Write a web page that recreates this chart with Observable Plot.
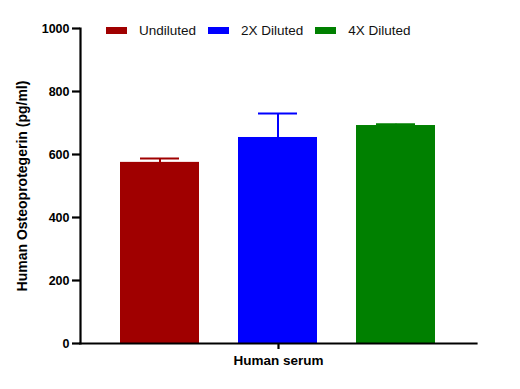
<!DOCTYPE html>
<html>
<head>
<meta charset="utf-8">
<script src="https://cdn.jsdelivr.net/npm/d3@7"></script>
<script src="https://cdn.jsdelivr.net/npm/@observablehq/plot@0.6"></script>
<style>
  body { margin: 0; background: #fff; font-family: "Liberation Sans", Arial, sans-serif; }
  #wrap { position: relative; width: 520px; height: 389px; }
  #legend { position: absolute; left: 106px; top: 22px; height: 17px; display: flex; align-items: center; font-size: 13.5px; color: #111; }
  #legend .sw { width: 21px; height: 7px; margin-right: 12px; }
  #legend .lb { margin-right: 12px; white-space: nowrap; }
</style>
</head>
<body>
<div id="wrap"><div id="legend"></div></div>
<script>
const group = "Human serum";
const series = ["Undiluted", "2X Diluted", "4X Diluted"];
const values = [575, 654, 692];
const errors = [12, 76, 4];
const colors = ["#A00000", "#0000FF", "#008000"];
const yTicks = [0, 200, 400, 600, 800, 1000];
const yTitle = "Human Osteoprotegerin (pg/ml)";

const data = series.map((s, i) => ({group, series: s, value: values[i], high: values[i] + errors[i]}));

const chart = Plot.plot({
  width: 520,
  height: 389,
  marginLeft: 80,
  marginRight: 44,
  marginTop: 28,
  marginBottom: 46,
  style: {fontFamily: "'Liberation Sans', Arial, sans-serif", color: "#000", background: "#fff"},
  fx: {domain: [group], padding: 0, axis: null},
  x: {domain: series, padding: 0.33, axis: null},
  y: {domain: [0, 1000], axis: null},
  color: {domain: series, range: colors},
  marks: [
    Plot.barY(data, {fx: "group", x: "series", y: "value", fill: "series"}),
    Plot.ruleX(data, {fx: "group", x: "series", y1: "value", y2: "high", stroke: "series", strokeWidth: 2}),
    Plot.tickY(data, {fx: "group", x: "series", y: "high", stroke: "series", strokeWidth: 2, insetLeft: 20, insetRight: 20}),
    Plot.frame({anchor: "left", strokeWidth: 2.2}),
    Plot.frame({anchor: "bottom", strokeWidth: 2.2}),
    Plot.axisY({ticks: yTicks, tickFormat: "d", tickSize: 8, tickPadding: 3, stroke: "#000", strokeWidth: 2.2, strokeOpacity: 1,
      fontSize: 12.5, fontWeight: "bold",
      label: yTitle, labelAnchor: "center", labelArrow: "none", labelOffset: 63}),
    Plot.axisFx({anchor: "bottom", tickSize: 6, stroke: "#000", strokeWidth: 2.2, strokeOpacity: 1, tickPadding: 6, fontSize: 13.5, fontWeight: "bold", label: null})
  ]
});
document.getElementById("wrap").prepend(chart);
chart.querySelectorAll("[aria-label='y-axis label'] text, [aria-label='y-axis label']").forEach(el => {
  el.setAttribute("font-size", "14");
  el.setAttribute("font-weight", "bold");
});
chart.querySelectorAll("[aria-label='y-axis tick'], [aria-label='fx-axis tick']").forEach(el => {
  el.setAttribute("stroke-width", "2.2");
  el.setAttribute("stroke-opacity", "1");
  el.setAttribute("stroke", "#000");
  el.querySelectorAll("path").forEach(p => { p.setAttribute("stroke-width", "2.2"); });
});

const legend = document.getElementById("legend");
series.forEach((s, i) => {
  const sw = document.createElement("span");
  sw.className = "sw";
  sw.style.background = colors[i];
  const lb = document.createElement("span");
  lb.className = "lb";
  lb.textContent = s;
  legend.append(sw, lb);
});
</script>
</body>
</html>
